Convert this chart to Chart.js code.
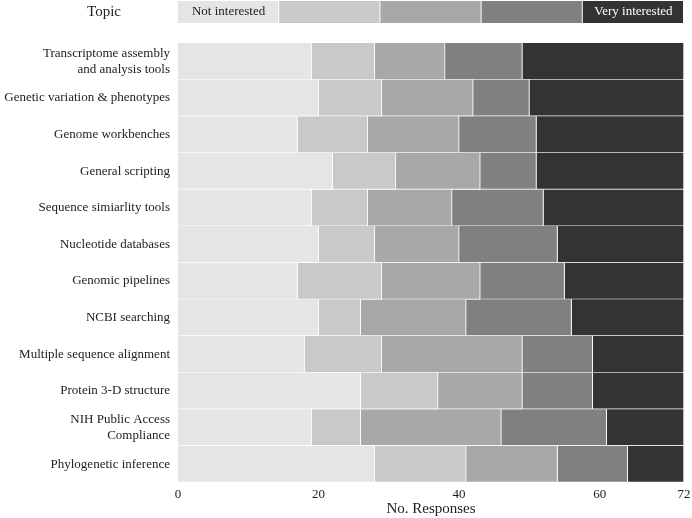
<!DOCTYPE html>
<html>
<head>
<meta charset="utf-8">
<script src="https://cdn.jsdelivr.net/npm/chart.js@4.4.0/dist/chart.umd.min.js"></script>
<style>
  body { margin: 0; background: #fff; }
  #wrap { width: 692px; height: 518px; }
</style>
</head>
<body>
<div id="wrap"><canvas id="myChart"></canvas></div>
<script>
const topics = [
    ['Transcriptome assembly', 'and analysis tools'],
    'Genetic variation & phenotypes',
    'Genome workbenches',
    'General scripting',
    'Sequence simiarlity tools',
    'Nucleotide databases',
    'Genomic pipelines',
    'NCBI searching',
    'Multiple sequence alignment',
    'Protein 3-D structure',
    ['NIH Public Access', 'Compliance'],
    'Phylogenetic inference',
];
const level1 = [19, 20, 17, 22, 19, 20, 17, 20, 18, 26, 19, 28];
const level2 = [9, 9, 10, 9, 8, 8, 12, 6, 11, 11, 7, 13];
const level3 = [10, 13, 13, 12, 12, 12, 14, 15, 20, 12, 20, 13];
const level4 = [11, 8, 11, 8, 13, 14, 12, 15, 10, 10, 15, 10];
const level5 = [23, 22, 21, 21, 20, 18, 17, 16, 13, 13, 11, 8];
const legendLabels = ['Not interested', '', '', '', 'Very interested'];
const xTicks = [0, 20, 40, 60, 72];

const colors = ['#e5e5e5', '#c9c9c9', '#a8a8a8', '#808080', '#333333'];
const serif = "'Liberation Serif', 'Times New Roman', serif";

Chart.defaults.font.family = serif;
Chart.defaults.font.size = 13;
Chart.defaults.color = '#222';

const series = [level1, level2, level3, level4, level5];
const datasets = series.map(function (vals, i) {
    return {
        label: 'level ' + (i + 1),
        data: vals,
        backgroundColor: colors[i],
        borderColor: '#fff',
        borderWidth: { top: 0, left: 0, right: 1, bottom: 1 },
        borderSkipped: false,
        barPercentage: 1,
        categoryPercentage: 1,
    };
});

// legend strip on top + "Topic" heading
const topLegend = {
    id: 'topLegend',
    afterDraw(chart) {
        const c = chart.ctx;
        const area = chart.chartArea;
        const w = (area.right - area.left) / legendLabels.length;
        c.save();
        for (let i = 0; i < legendLabels.length; i++) {
            const x = area.left + i * w;
            c.fillStyle = colors[i];
            c.fillRect(x, 1, w - 1, 22);
            if (legendLabels[i]) {
                c.fillStyle = i < 3 ? '#222' : '#fff';
                c.font = '13px ' + serif;
                c.textAlign = 'center';
                c.textBaseline = 'middle';
                c.fillText(legendLabels[i], x + w / 2, 12);
            }
        }
        c.fillStyle = '#222';
        c.font = '15px ' + serif;
        c.textAlign = 'center';
        c.textBaseline = 'middle';
        c.fillText('Topic', 104, 12);
        c.restore();
    }
};

const ctx = document.getElementById('myChart');
const myChart = new Chart(ctx, {
    type: 'bar',
    data: { labels: topics, datasets: datasets },
    options: {
        indexAxis: 'y',
        responsive: true,
        maintainAspectRatio: false,
        animation: false,
        layout: { padding: { top: 43, right: 8, bottom: 0, left: 0 } },
        plugins: {
            legend: { display: false },
            tooltip: { enabled: false },
        },
        scales: {
            x: {
                stacked: true,
                min: 0,
                max: 72,
                grid: { display: false, drawTicks: false },
                border: { display: false },
                afterBuildTicks: function (s) {
                    s.ticks = xTicks.map(function (v) { return { value: v }; });
                },
                afterFit: function (s) {
                    s.paddingLeft = 0;
                    s.paddingRight = 0;
                    s.height = s.height - 6;
                },
                ticks: { padding: 4, maxRotation: 0 },
                title: {
                    display: true,
                    text: 'No. Responses',
                    font: { size: 15 },
                    padding: { top: 0, bottom: 0 },
                },
            },
            y: {
                stacked: true,
                grid: { display: false, drawTicks: false },
                border: { display: false },
                afterFit: function (s) { s.width = 178; },
                ticks: { padding: 8, autoSkip: false },
            },
        },
    },
    plugins: [topLegend],
});
</script>
</body>
</html>
